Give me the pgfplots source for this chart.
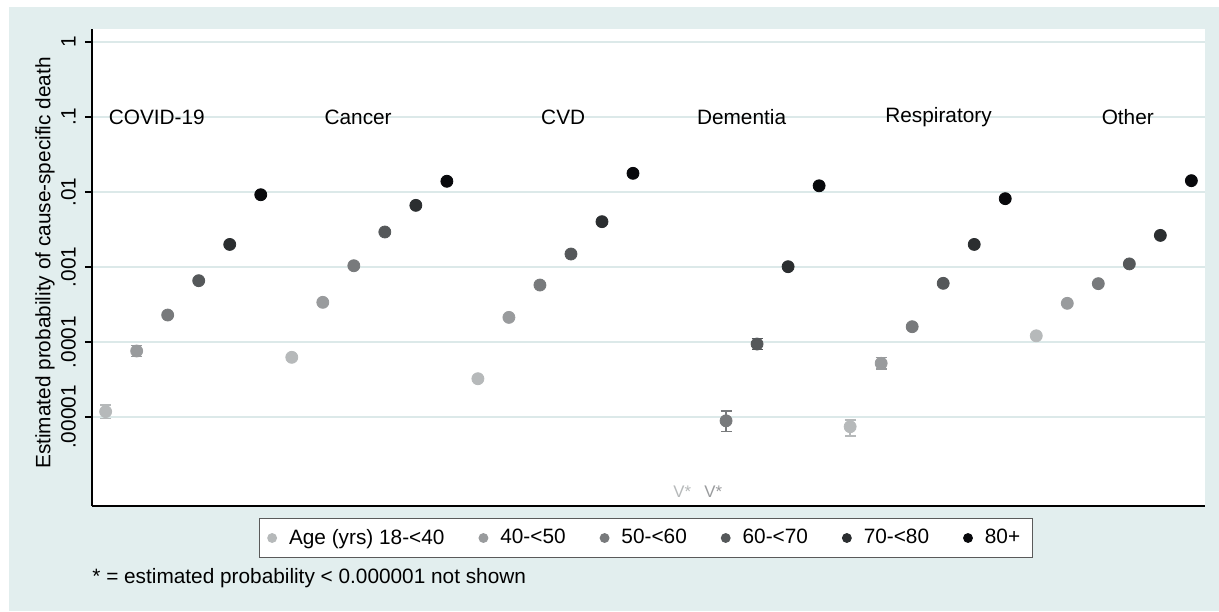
\documentclass[border=0pt]{standalone}
\usepackage{fontspec}
\setmainfont{Liberation Sans}
\usepackage{pgfplots}
\pgfplotsset{compat=1.18}
\definecolor{bg}{RGB}{226,238,238}
\definecolor{gridc}{RGB}{220,233,233}
\definecolor{ca}{RGB}{182,185,186}
\definecolor{cb}{RGB}{153,155,157}
\definecolor{cc}{RGB}{120,122,124}
\definecolor{cd}{RGB}{85,88,90}
\definecolor{ce}{RGB}{43,46,48}
\definecolor{cf}{RGB}{8,9,12}
\definecolor{legc}{RGB}{90,90,90}
\newcommand{\mainfs}{\fontsize{10.4}{12}\selectfont}
\pgfplotsset{
  pts/.style={only marks, mark=*, mark size=3pt, color=#1,
    error bars/y dir=both, error bars/y explicit,
    error bars/error bar style={line width=0.75pt, #1},
    error bars/error mark options={rotate=90, mark size=2.75pt, line width=0.75pt, #1}},
}
\begin{document}
\begin{tikzpicture}
\useasboundingbox (0,0) rectangle (609.5pt,305.5pt);
\fill[bg] (4.5pt,0) rectangle (609.5pt,302pt);
\begin{axis}[
  at={(46pt,52.75pt)}, anchor=south west,
  scale only axis, width=556.5pt, height=238.25pt,
  xmin=-0.44, xmax=35.44,
  ymode=log, ymin=6.61e-7, ymax=1.49,
  axis x line*=bottom, axis y line*=left,
  axis line style={black, line width=1pt},
  xtick=\empty,
  ytick={1e-5,1e-4,1e-3,1e-2,1e-1,1},
  yticklabels={.00001,.0001,.001,.01,.1,1},
  yminorticks=false,
  ymajorgrids, grid style={gridc, line width=1pt},
  tick align=outside, major tick length=3.5pt,
  ytick style={black, line width=1pt},
  yticklabel style={rotate=90, anchor=center, inner sep=0pt, yshift=8.25pt, font=\mainfs},
  ylabel={Estimated probability of cause-specific death},
  ylabel style={at={(axis description cs:-0.0422,0.509)}, anchor=center, font=\mainfs},
  axis background/.style={fill=white},
  clip=false,
  legend columns=6,
  legend style={at={(0.4975,-0.0682)}, anchor=center, draw=legc, line width=0.5pt,
    fill=white, font=\mainfs, inner xsep=4pt, inner ysep=3pt,
    /tikz/every odd column/.append style={column sep=4pt},
    /tikz/every even column/.append style={column sep=15pt}},
  legend image code/.code={\fill (0.1cm,0cm) circle (2.2pt);},
]
\addplot[pts=ca] table[x=x,y=y,y error plus=ep,y error minus=em] {
x y ep em
0 1.18e-5 2.65e-6 2.2e-6
6 6.25e-5 0 0
12 3.24e-5 0 0
24 7.43e-6 1.7e-6 1.85e-6
30 1.21e-4 0 0
};
\addlegendentry{Age (yrs) 18-<40}
\addplot[pts=cb] table[x=x,y=y,y error plus=ep,y error minus=em] {
x y ep em
1 7.59e-5 1.43e-5 1.2e-5
7 3.38e-4 0 0
13 2.13e-4 0 0
25 5.2e-5 9.8e-6 8.3e-6
31 3.28e-4 0 0
};
\addlegendentry{40-<50}
\addplot[pts=cc] table[x=x,y=y,y error plus=ep,y error minus=em] {
x y ep em
2 2.29e-4 0 0
8 1.04e-3 0 0
14 5.75e-4 0 0
20 8.9e-6 3.2e-6 2.5e-6
26 1.6e-4 0 0
32 6.0e-4 0 0
};
\addlegendentry{50-<60}
\addplot[pts=cd] table[x=x,y=y,y error plus=ep,y error minus=em] {
x y ep em
3 6.57e-4 0 0
9 2.93e-3 0 0
15 1.49e-3 0 0
21 9.4e-5 1.78e-5 1.49e-5
27 6.06e-4 0 0
33 1.1e-3 0 0
};
\addlegendentry{60-<70}
\addplot[pts=ce] table[x=x,y=y,y error plus=ep,y error minus=em] {
x y ep em
4 2.0e-3 0 0
10 6.64e-3 0 0
16 4.02e-3 0 0
22 1.01e-3 0 0
28 2.0e-3 0 0
34 2.64e-3 0 0
};
\addlegendentry{70-<80}
\addplot[pts=cf] table[x=x,y=y,y error plus=ep,y error minus=em] {
x y ep em
5 9.2e-3 0 0
11 0.0139 0 0
17 0.01775 0 0
23 0.0121 0 0
29 8.15e-3 0 0
35 0.01416 0 0
};
\addlegendentry{80+}
\node[font=\mainfs] at (axis cs:1.65,0.1) {COVID-19};
\node[font=\mainfs] at (axis cs:8.14,0.1) {Cancer};
\node[font=\mainfs] at (axis cs:14.75,0.1) {CVD};
\node[font=\mainfs] at (axis cs:20.5,0.1) {Dementia};
\node[font=\mainfs] at (axis cs:26.85,0.1) {Respiratory};
\node[font=\mainfs] at (axis cs:32.95,0.1) {Other};
\node[anchor=west, inner sep=0pt, xshift=4.5pt, text=ca, font=\fontsize{8.4}{10}\selectfont] at (axis cs:18,1e-6) {V*};
\node[anchor=west, inner sep=0pt, xshift=4.5pt, text=cb, font=\fontsize{8.4}{10}\selectfont] at (axis cs:19,1e-6) {V*};
\end{axis}
\node[anchor=west, inner sep=0pt, font=\mainfs] at (46pt,16.5pt) {* = estimated probability < 0.000001 not shown};
\end{tikzpicture}
\end{document}
